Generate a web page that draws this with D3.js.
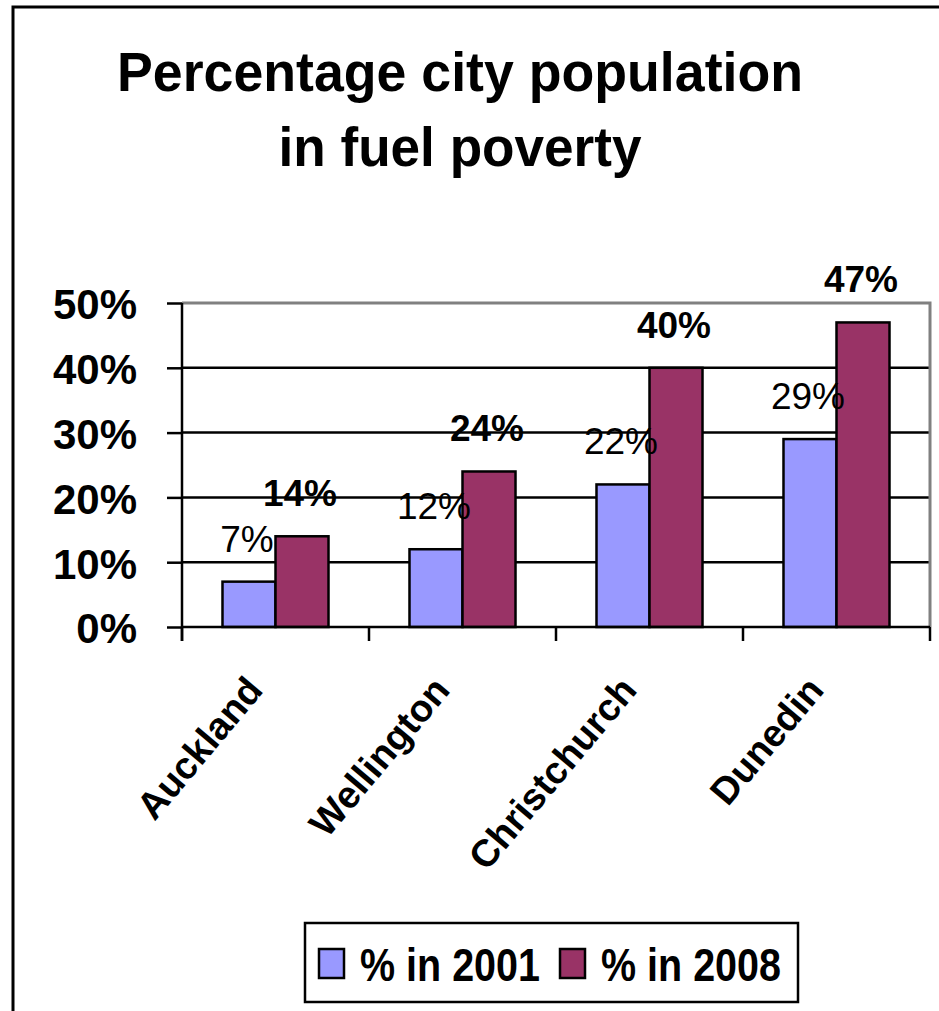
<!DOCTYPE html>
<html>
<head>
<meta charset="utf-8">
<script src="https://cdn.jsdelivr.net/npm/d3@7"></script>
<style>
  body { margin: 0; background: #fff; }
  svg { display: block; font-family: "Liberation Sans", Arial, sans-serif; }
</style>
</head>
<body>
<div id="chart"></div>
<script>
var cities = ["Auckland", "Wellington", "Christchurch", "Dunedin"];
var seriesNames = ["% in 2001", "% in 2008"];
var values2001 = [7, 12, 22, 29];
var values2008 = [14, 24, 40, 47];
var yTicks = [0, 10, 20, 30, 40, 50];
var titleLines = ["Percentage city population", "in fuel poverty"];

var colors = { "% in 2001": "#9999ff", "% in 2008": "#993366" };

var width = 939, height = 1011;
var plot = { left: 182, right: 930, top: 303, bottom: 627 };

var svg = d3.select('#chart')
    .append('svg')
    .attr('width', width)
    .attr('height', height);

// outer frame (runs off the right and bottom edges)
svg.append('rect')
    .attr('x', 13).attr('y', 7)
    .attr('width', 1000).attr('height', 1100)
    .attr('fill', 'none')
    .attr('stroke', '#000')
    .attr('stroke-width', 3);

// title
svg.selectAll('text.title')
    .data(titleLines)
    .enter()
    .append('text')
    .attr('class', 'title')
    .attr('x', 460)
    .attr('y', function(d, i) { return 91 + i * 75; })
    .attr('text-anchor', 'middle')
    .attr('font-size', 55)
    .attr('font-weight', 'bold')
    .attr('textLength', function(d, i) { return i === 0 ? 686 : 363; })
    .attr('lengthAdjust', 'spacingAndGlyphs')
    .text(function(d) { return d; });

var y = d3.scaleLinear().domain([0, 50]).range([plot.bottom, plot.top]);
var x0 = d3.scaleBand().domain(cities).range([plot.left, plot.right]).padding(0);
var x1 = d3.scaleBand().domain(seriesNames).range([0, x0.bandwidth()])
    .paddingInner(0).paddingOuter(0.764);

// gridlines
svg.append('g')
    .selectAll('line')
    .data(yTicks.filter(function(t) { return t > 0 && t < 50; }))
    .enter()
    .append('line')
    .attr('x1', plot.left).attr('x2', plot.right)
    .attr('y1', function(d) { return y(d); })
    .attr('y2', function(d) { return y(d); })
    .attr('stroke', '#000')
    .attr('stroke-width', 2.5);

// plot area border (top and right are grey)
svg.append('path')
    .attr('d', 'M' + plot.left + ',' + y(50) + 'H' + plot.right + 'V' + plot.bottom)
    .attr('fill', 'none')
    .attr('stroke', '#808080')
    .attr('stroke-width', 3);

// bars
var rows = cities.map(function(c, i) {
    return { city: c, vals: [
        { key: seriesNames[0], value: values2001[i] },
        { key: seriesNames[1], value: values2008[i] }
    ] };
});

var groups = svg.append('g')
    .selectAll('g')
    .data(rows)
    .enter()
    .append('g')
    .attr('transform', function(d) { return 'translate(' + x0(d.city) + ',0)'; });

groups.selectAll('rect')
    .data(function(d) { return d.vals; })
    .enter()
    .append('rect')
    .attr('x', function(d) { return x1(d.key); })
    .attr('y', function(d) { return y(d.value); })
    .attr('width', x1.bandwidth())
    .attr('height', function(d) { return y(0) - y(d.value); })
    .attr('fill', function(d) { return colors[d.key]; })
    .attr('stroke', '#000')
    .attr('stroke-width', 2.5);

groups.selectAll('text')
    .data(function(d) { return d.vals; })
    .enter()
    .append('text')
    .attr('x', function(d) { return x1(d.key) + x1.bandwidth() / 2 - 2; })
    .attr('y', function(d) { return y(d.value) - 30; })
    .attr('text-anchor', 'middle')
    .attr('font-size', 37)
    .attr('font-weight', function(d) { return d.key === seriesNames[1] ? 'bold' : 'normal'; })
    .text(function(d) { return d.value + '%'; });

// y axis
var yAxis = svg.append('g')
    .attr('transform', 'translate(' + plot.left + ',0)')
    .call(d3.axisLeft(y).tickValues(yTicks).tickSize(15).tickPadding(30)
        .tickFormat(function(d) { return d + '%'; }));
yAxis.select('.domain').attr('stroke', '#000').attr('stroke-width', 2.5)
    .attr('d', 'M0,' + plot.top + 'V' + (plot.bottom + 14));
yAxis.selectAll('.tick line').attr('stroke', '#000').attr('stroke-width', 2.5);
yAxis.selectAll('.tick text')
    .attr('font-family', '"Liberation Sans", Arial, sans-serif')
    .attr('font-size', 42)
    .attr('font-weight', 'bold')
    .attr('fill', '#000')
    .attr('dy', '0.38em');

// x axis with ticks at category boundaries
var xAxis = svg.append('g')
    .attr('transform', 'translate(0,' + plot.bottom + ')');
xAxis.append('line')
    .attr('x1', plot.left).attr('x2', plot.right)
    .attr('stroke', '#000').attr('stroke-width', 2.5);
var bounds = cities.map(function(c) { return x0(c); }).concat([plot.right]);
xAxis.selectAll('line.tk')
    .data(bounds)
    .enter()
    .append('line')
    .attr('class', 'tk')
    .attr('x1', function(d) { return d; }).attr('x2', function(d) { return d; })
    .attr('y1', 0).attr('y2', 14)
    .attr('stroke', '#000').attr('stroke-width', 2.5);
xAxis.selectAll('text')
    .data(cities)
    .enter()
    .append('text')
    .attr('transform', function(d) {
        return 'translate(' + (x0(d) + x0.bandwidth() / 2 - 11) + ',64) rotate(-50)';
    })
    .attr('text-anchor', 'end')
    .attr('font-size', 38)
    .attr('font-weight', 'bold')
    .text(function(d) { return d; });

// legend
var legend = svg.append('g');
legend.append('rect')
    .attr('x', 305).attr('y', 923)
    .attr('width', 493).attr('height', 79)
    .attr('fill', '#fff')
    .attr('stroke', '#000')
    .attr('stroke-width', 2.5);
var legendX = [319, 560];
var items = legend.selectAll('g.item')
    .data(seriesNames)
    .enter()
    .append('g')
    .attr('class', 'item')
    .attr('transform', function(d, i) { return 'translate(' + legendX[i] + ',0)'; });
items.append('rect')
    .attr('x', 0).attr('y', 949)
    .attr('width', 25).attr('height', 29)
    .attr('fill', function(d) { return colors[d]; })
    .attr('stroke', '#000')
    .attr('stroke-width', 2.5);
items.append('text')
    .attr('x', 41).attr('y', 981)
    .attr('font-size', 47)
    .attr('font-weight', 'bold')
    .attr('textLength', 180)
    .attr('lengthAdjust', 'spacingAndGlyphs')
    .text(function(d) { return d; });
</script>
</body>
</html>
